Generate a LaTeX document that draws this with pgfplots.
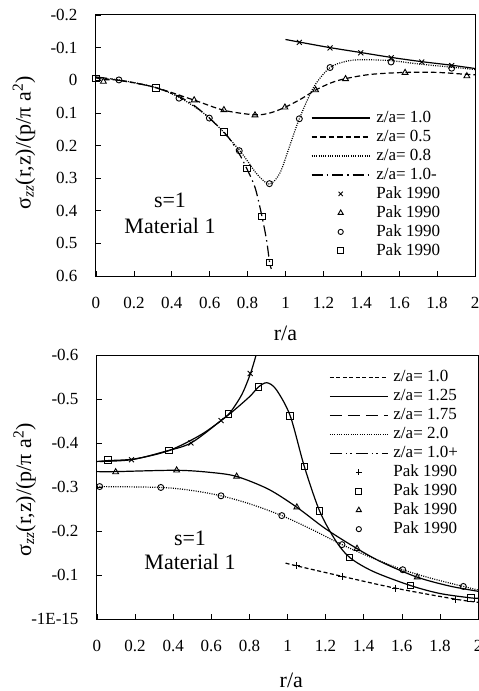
\documentclass[border=0pt]{standalone}
\usepackage{pgfplots}
\pgfplotsset{compat=1.18}
\usepackage{fontspec}
\setmainfont{Liberation Serif}
\pgfplotsset{
  legend image code/.code={\draw[#1] (0pt,0pt) -- (58pt,0pt);},
  mk/.style={legend image code/.code={\path (0pt,0pt) (58pt,0pt); \draw[##1] plot coordinates {(29pt,0pt)};}},
  base/.style={
    scale only axis, anchor=south west,
    xmin=0, xmax=2, y dir=reverse,
    xtick={0,0.2,0.4,0.6,0.8,1,1.2,1.4,1.6,1.8,2},
    tick align=inside, major tick length=5pt,
    xtick pos=left, ytick pos=left,
    tick style={black, line width=0.6pt},
    axis line style={line width=1pt},
    ticklabel style={font=\fontsize{17}{17}\selectfont},
    /pgf/number format/assume math mode=true,
    xticklabel style={yshift=-18pt},
    yticklabel style={xshift=-15pt},
    xlabel={r/a},
    ylabel={σ\textsubscript{\textit{zz}}(r,z)/(p/π a\textsuperscript{2})},
    label style={font=\fontsize{22}{22}\selectfont},
    legend style={draw=none, fill=none, font=\fontsize{17}{17}\selectfont, anchor=north west, inner sep=0pt, row sep=1.5pt,
      nodes={text height=12pt,text depth=3.5pt,inner sep=1pt},
      /tikz/every odd column/.append style={column sep=5pt}},
    legend cell align=left,
  },
  mx/.style={only marks, black, line width=0.9pt, mark size=3.5pt, mark=x},
  mp/.style={only marks, black, line width=0.9pt, mark size=3.5pt, mark=+},
  mt/.style={only marks, black, line width=0.9pt, mark size=3.4pt, mark=triangle},
  mo/.style={only marks, black, line width=0.9pt, mark size=3pt, mark=o},
  ms/.style={only marks, black, line width=0.9pt, mark size=3.3pt, mark=square},
  ln/.style={black, line width=1.2pt, smooth, no marks},
}
\begin{document}
\begin{tikzpicture}
\useasboundingbox (0pt,0pt) rectangle (479pt,691pt);
% ---------------- top ----------------
\begin{axis}[base, at={(96pt,415pt)}, width=379pt, height=261pt,
  ymin=-0.2, ymax=0.6, ytick={-0.2,-0.1,0,0.1,0.2,0.3,0.4,0.5,0.6},
  xlabel style={at={(axis description cs:0.5,-0.218)}, anchor=center},
  ylabel style={at={(axis description cs:-0.19,0.51)}, anchor=center},
  legend style={at={(axis description cs:0.567,0.64)}}]
\addlegendimage{black, line width=1.2pt}\addlegendentry{z/a= 1.0}
\addlegendimage{black, line width=1.2pt, dash pattern=on 5.5pt off 3pt}\addlegendentry{z/a= 0.5}
\addlegendimage{black, line width=1.2pt, dash pattern=on 1pt off 1.3pt}\addlegendentry{z/a= 0.8}
\addlegendimage{black, line width=1.2pt, dash pattern=on 11pt off 4pt on 1.5pt off 4pt}\addlegendentry{z/a= 1.0-}
\addlegendimage{mx, mark size=3pt, mk}\addlegendentry{Pak 1990}
\addlegendimage{mt, mark size=3pt, mk}\addlegendentry{Pak 1990}
\addlegendimage{mo, mark size=2.6pt, mk}\addlegendentry{Pak 1990}
\addlegendimage{ms, mark size=3pt, mk}\addlegendentry{Pak 1990}
% z/a=1.0 solid
\addplot[ln, forget plot] coordinates {(1.0,-0.125) (1.073,-0.117) (1.235,-0.100) (1.397,-0.085) (1.558,-0.070) (1.719,-0.057) (1.877,-0.046) (2.0,-0.036)};
% z/a=0.5 dashed
\addplot[ln, forget plot, dash pattern=on 5.5pt off 3pt] coordinates {(0,-0.008) (0.04,-0.002) (0.12,0.0) (0.3,0.02) (0.518,0.061) (0.675,0.092) (0.839,0.106) (0.92,0.100) (0.997,0.083) (1.08,0.058) (1.159,0.030) (1.24,0.008) (1.317,-0.005) (1.45,-0.018) (1.631,-0.024) (1.8,-0.024) (1.957,-0.018) (2.0,-0.017)};
% z/a=0.8 dotted
\addplot[ln, forget plot, dash pattern=on 1pt off 1.3pt] coordinates {(0,-0.008) (0.121,-0.001) (0.3,0.02) (0.438,0.052) (0.598,0.115) (0.756,0.214) (0.85,0.288) (0.915,0.318) (0.97,0.285) (1.02,0.205) (1.073,0.118) (1.15,0.02) (1.235,-0.039) (1.32,-0.058) (1.4,-0.063) (1.557,-0.060) (1.7,-0.050) (1.877,-0.040) (2.0,-0.033)};
% z/a=1.0- dash dot
\addplot[ln, forget plot, dash pattern=on 11pt off 4pt on 1.5pt off 4pt] coordinates {(0,-0.01) (0.1,-0.002) (0.317,0.023) (0.5,0.07) (0.675,0.159) (0.75,0.22) (0.795,0.270) (0.84,0.33) (0.876,0.418) (0.9,0.49) (0.916,0.558) (0.925,0.578)};
\addplot[mx, forget plot] coordinates {(1.073,-0.116) (1.235,-0.099) (1.397,-0.084) (1.558,-0.069) (1.719,-0.056) (1.877,-0.045)};
\addplot[mt, forget plot] coordinates {(0.039,0.004) (0.518,0.061) (0.675,0.091) (0.839,0.107) (0.997,0.083) (1.159,0.030) (1.317,-0.004) (1.631,-0.023) (1.957,-0.013)};
\addplot[mo, forget plot] coordinates {(0.121,-0.001) (0.438,0.055) (0.598,0.116) (0.756,0.216) (0.915,0.317) (1.073,0.118) (1.235,-0.039) (1.557,-0.056) (1.877,-0.037)};
\addplot[ms, forget plot] coordinates {(0,-0.006) (0.317,0.023) (0.675,0.159) (0.795,0.270) (0.876,0.418) (0.916,0.558)};
\end{axis}
\node[font=\fontsize{22}{22}\selectfont] at (170pt,491pt) {s=1};
\node[font=\fontsize{22}{22}\selectfont] at (170pt,465pt) {Material 1};
% ---------------- bottom ----------------
\begin{axis}[base, at={(97pt,72pt)}, width=381pt, height=264pt,
  ymin=-0.6, ymax=0, ytick={-0.6,-0.5,-0.4,-0.3,-0.2,-0.1,0},
  yticklabels={-0.6,-0.5,-0.4,-0.3,-0.2,-0.1,-1E-15},
  xlabel style={at={(axis description cs:0.51,-0.231)}, anchor=center},
  ylabel style={at={(axis description cs:-0.19,0.489)}, anchor=center},
  legend style={at={(axis description cs:0.609,0.95)}, /tikz/every odd column/.append style={column sep=4pt}}]
\addlegendimage{black, line width=1.2pt, dash pattern=on 4pt off 2.5pt}\addlegendentry{z/a= 1.0}
\addlegendimage{black, line width=1.2pt}\addlegendentry{z/a= 1.25}
\addlegendimage{black, line width=1.2pt, dash pattern=on 12pt off 6pt}\addlegendentry{z/a= 1.75}
\addlegendimage{black, line width=1.2pt, dash pattern=on 1pt off 1.3pt}\addlegendentry{z/a= 2.0}
\addlegendimage{black, line width=1.2pt, dash pattern=on 12pt off 4pt on 1.5pt off 3pt on 1.5pt off 4pt}\addlegendentry{z/a= 1.0+}
\addlegendimage{mp, mark size=3pt, mk}\addlegendentry{Pak 1990}
\addlegendimage{ms, mark size=3pt, mk}\addlegendentry{Pak 1990}
\addlegendimage{mt, mark size=3pt, mk}\addlegendentry{Pak 1990}
\addlegendimage{mo, mark size=2.6pt, mk}\addlegendentry{Pak 1990}
% z/a=1.0 dashed
\addplot[ln, forget plot, dash pattern=on 4pt off 2.5pt] coordinates {(0.99,-0.127) (1.046,-0.121) (1.286,-0.097) (1.567,-0.070) (1.883,-0.045) (2.0,-0.038)};
% z/a=1.25 solid
\addplot[ln, forget plot] coordinates {(0,-0.358) (0.058,-0.360) (0.2,-0.364) (0.379,-0.383) (0.55,-0.42) (0.690,-0.464) (0.8,-0.505) (0.847,-0.527) (0.891,-0.537) (0.94,-0.522) (1.014,-0.462) (1.088,-0.347) (1.168,-0.246) (1.25,-0.18) (1.326,-0.140) (1.45,-0.108) (1.646,-0.076) (1.8,-0.058) (1.962,-0.048) (2.0,-0.047)};
% z/a=1.75
\addplot[ln, forget plot] coordinates {(0,-0.335) (0.098,-0.335) (0.418,-0.338) (0.6,-0.333) (0.733,-0.324) (0.9,-0.295) (1.049,-0.254) (1.2,-0.205) (1.365,-0.160) (1.5,-0.128) (1.681,-0.095) (1.85,-0.075) (2.0,-0.063)};
% z/a=2.0 dotted
\addplot[ln, forget plot, dash pattern=on 1pt off 1.3pt] coordinates {(0,-0.301) (0.335,-0.299) (0.5,-0.292) (0.651,-0.280) (0.8,-0.262) (0.970,-0.235) (1.13,-0.203) (1.286,-0.169) (1.45,-0.138) (1.605,-0.112) (1.75,-0.093) (1.923,-0.074) (2.0,-0.066)};
% z/a=1.0+
\addplot[ln, forget plot] coordinates {(0.014,-0.358) (0.181,-0.362) (0.35,-0.38) (0.493,-0.400) (0.651,-0.451) (0.70,-0.47) (0.76,-0.51) (0.804,-0.556) (0.835,-0.600) (0.85,-0.63)};
\addplot[mp, forget plot] coordinates {(1.046,-0.121) (1.286,-0.097) (1.567,-0.070) (1.883,-0.045)};
\addplot[mx, forget plot] coordinates {(0.181,-0.362) (0.493,-0.400) (0.651,-0.451) (0.804,-0.558)};
\addplot[ms, forget plot] coordinates {(0.058,-0.361) (0.379,-0.383) (0.690,-0.466) (0.847,-0.527) (1.014,-0.462) (1.088,-0.347) (1.168,-0.246) (1.326,-0.140) (1.646,-0.076) (1.962,-0.048)};
\addplot[mt, forget plot] coordinates {(0.098,-0.334) (0.418,-0.338) (0.733,-0.324) (1.049,-0.254) (1.365,-0.160) (1.681,-0.095)};
\addplot[mo, forget plot] coordinates {(0.014,-0.301) (0.335,-0.299) (0.651,-0.280) (0.970,-0.235) (1.286,-0.169) (1.605,-0.112) (1.923,-0.074)};
\end{axis}
\node[font=\fontsize{22}{22}\selectfont] at (190pt,153pt) {s=1};
\node[font=\fontsize{22}{22}\selectfont] at (190pt,129pt) {Material 1};
\end{tikzpicture}
\end{document}
